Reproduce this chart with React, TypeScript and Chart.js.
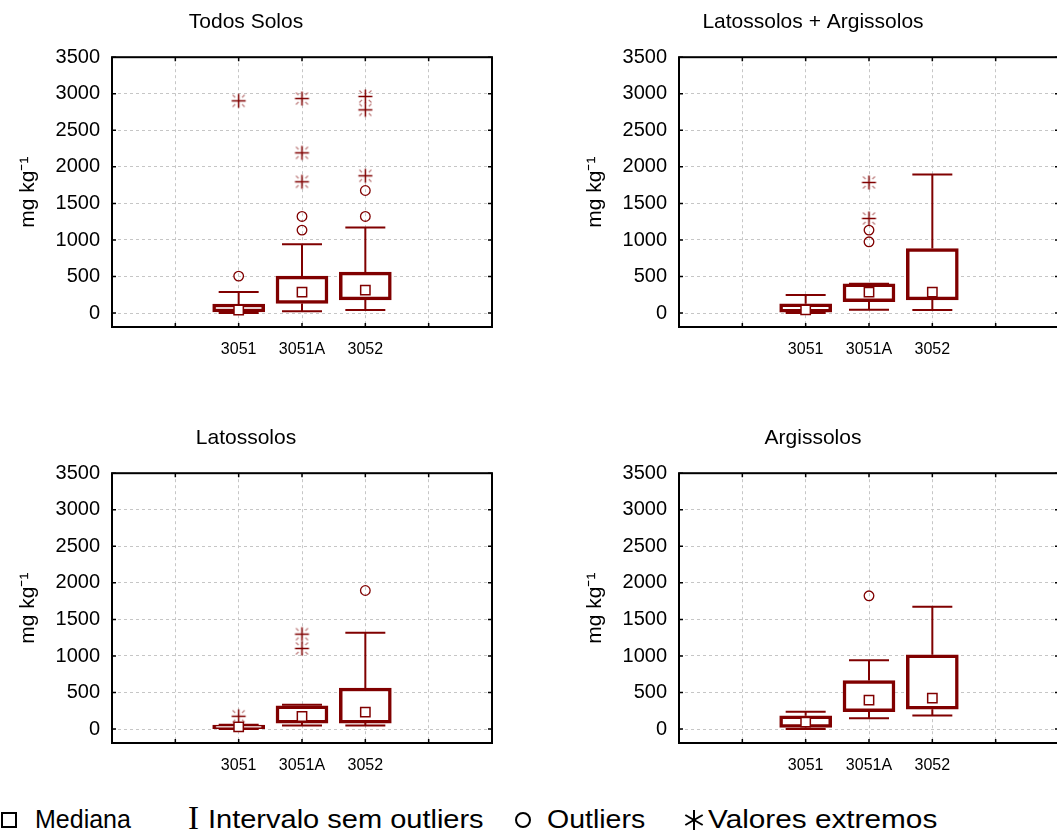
import { useEffect, useRef } from "react";
import { Chart, registerables } from "chart.js";

Chart.register(...registerables);

// ---------- data ----------
const categories = ["3051", "3051A", "3052"];
const categoryPositions = [2, 3, 4];
const xGridTicks = [1, 2, 3, 4, 5];
const yTicks = [0, 500, 1000, 1500, 2000, 2500, 3000, 3500];
const yMin = -190;
const yMax = 3500;
const xMin = 0;
const xMax = 6;

const panelTitles = ["Todos Solos", "Latossolos + Argissolos", "Latossolos", "Argissolos"];
const yAxisTitle = "mg kg\u207B\u00B9";

// Todos Solos
const todosWhiskerLow = [0, 27, 41];
const todosQ1 = [15, 132, 182];
const todosMedian = [42, 287, 315];
const todosQ3 = [125, 506, 561];
const todosWhiskerHigh = [290, 943, 1171];
const todosOutliers = [[506], [1135, 1322], [1322, 1677]];
const todosExtremes = [[2903], [1796, 2192, 2935], [1878, 2780, 2963]];

// Latossolos + Argissolos
const latArgWhiskerLow = [0, 46, 41];
const latArgQ1 = [14, 155, 182];
const latArgMedian = [45, 287, 287];
const latArgQ3 = [128, 401, 884];
const latArgWhiskerHigh = [246, 401, 1896];
const latArgOutliers = [[], [975, 1135], []];
const latArgExtremes = [[], [1294, 1787], []];

// Latossolos
const latWhiskerLow = [0, 50, 50];
const latQ1 = [5, 82, 82];
const latMedian = [30, 172, 232];
const latQ3 = [55, 320, 562];
const latWhiskerHigh = [60, 333, 1317];
const latOutliers = [[], [], [1896]];
const latExtremes = [[175], [1103, 1299], []];

// Argissolos
const argWhiskerLow = [0, 150, 187];
const argQ1 = [23, 237, 273];
const argMedian = [96, 397, 424];
const argQ3 = [182, 665, 1016];
const argWhiskerHigh = [237, 943, 1673];
const argOutliers = [[], [1823], []];
const argExtremes = [[], [], []];

const panels = [
  { title: panelTitles[0], low: todosWhiskerLow, q1: todosQ1, med: todosMedian, q3: todosQ3, high: todosWhiskerHigh, out: todosOutliers, ext: todosExtremes, left: 0, top: 0 },
  { title: panelTitles[1], low: latArgWhiskerLow, q1: latArgQ1, med: latArgMedian, q3: latArgQ3, high: latArgWhiskerHigh, out: latArgOutliers, ext: latArgExtremes, left: 567, top: 0 },
  { title: panelTitles[2], low: latWhiskerLow, q1: latQ1, med: latMedian, q3: latQ3, high: latWhiskerHigh, out: latOutliers, ext: latExtremes, left: 0, top: 416 },
  { title: panelTitles[3], low: argWhiskerLow, q1: argQ1, med: argMedian, q3: argQ3, high: argWhiskerHigh, out: argOutliers, ext: argExtremes, left: 567, top: 416 },
];

// ---------- styles ----------
const MAROON = "#800000";
const FONT = "'Liberation Sans', Arial, sans-serif";
const NARROW = "'Liberation Sans Narrow', 'Arial Narrow', 'Liberation Sans', Arial, sans-serif";
const CANVAS_W = 506;
const CANVAS_H = 380;

function makeAsterisk(): HTMLCanvasElement {
  const c = document.createElement("canvas");
  c.width = 17;
  c.height = 17;
  const g = c.getContext("2d")!;
  const m = 8.5;
  g.strokeStyle = MAROON;
  g.lineWidth = 1.5;
  g.beginPath();
  g.moveTo(1.5, m);
  g.lineTo(15.5, m);
  g.moveTo(m, 1.5);
  g.lineTo(m, 15.5);
  g.stroke();
  g.strokeStyle = "rgba(128,0,0,0.55)";
  g.lineWidth = 1.2;
  g.beginPath();
  const a = 3.4, b = 6;
  for (const [sx, sy] of [[1, 1], [1, -1], [-1, 1], [-1, -1]]) {
    g.moveTo(m + sx * a, m + sy * a);
    g.lineTo(m + sx * b, m + sy * b);
  }
  g.stroke();
  return c;
}

function makeWhiskerPlugin(p: any) {
  return {
    id: "boxWhiskers",
    beforeDatasetsDraw(chart: any) {
      const { ctx, chartArea, scales } = chart;
      const xs = scales.x;
      const ys = scales.y;
      ctx.save();
      ctx.beginPath();
      ctx.rect(chartArea.left, chartArea.top, chartArea.right - chartArea.left, chartArea.bottom - chartArea.top);
      ctx.clip();
      ctx.strokeStyle = MAROON;
      ctx.lineWidth = 2;
      const half = 20;
      categoryPositions.forEach((pos, i) => {
        const px = xs.getPixelForValue(pos);
        const yHigh = ys.getPixelForValue(p.high[i]);
        const yLow = ys.getPixelForValue(p.low[i]);
        ctx.beginPath();
        ctx.moveTo(px, yHigh);
        ctx.lineTo(px, ys.getPixelForValue(p.q3[i]));
        ctx.moveTo(px, ys.getPixelForValue(p.q1[i]));
        ctx.lineTo(px, yLow);
        ctx.moveTo(px - half, yHigh);
        ctx.lineTo(px + half, yHigh);
        ctx.moveTo(px - half, yLow);
        ctx.lineTo(px + half, yLow);
        ctx.stroke();
      });
      ctx.restore();
    },
  };
}

const framePlugin = {
  id: "frame",
  afterDatasetsDraw(chart: any) {
    const { ctx, chartArea, scales } = chart;
    const { left, right, top, bottom } = chartArea;
    ctx.save();
    ctx.strokeStyle = "#000";
    ctx.lineWidth = 2;
    ctx.strokeRect(left, top, right - left, bottom - top);
    ctx.lineWidth = 1.5;
    ctx.beginPath();
    xGridTicks.forEach((v) => {
      const px = scales.x.getPixelForValue(v);
      ctx.moveTo(px, top);
      ctx.lineTo(px, top + 4);
      ctx.moveTo(px, bottom);
      ctx.lineTo(px, bottom - 4);
    });
    yTicks.forEach((v) => {
      const py = scales.y.getPixelForValue(v);
      ctx.moveTo(left, py);
      ctx.lineTo(left + 4, py);
      ctx.moveTo(right, py);
      ctx.lineTo(right - 4, py);
    });
    ctx.stroke();
    ctx.restore();
  },
};

function BoxPanel({ p }: { p: any }) {
  const ref = useRef<HTMLCanvasElement | null>(null);
  useEffect(() => {
    if (!ref.current) return;
    const star = makeAsterisk();
    const boxes = categoryPositions.map((x, i) => ({ x, y: [p.q1[i], p.q3[i]] }));
    const medians = categoryPositions.map((x, i) => ({ x, y: p.med[i] }));
    const outliers = categoryPositions.flatMap((x, i) => p.out[i].map((y: number) => ({ x, y })));
    const extremes = categoryPositions.flatMap((x, i) => p.ext[i].map((y: number) => ({ x, y })));
    const chart = new Chart(ref.current, {
      type: "bar",
      data: {
        datasets: [
          {
            type: "scatter",
            data: medians,
            pointStyle: "rect",
            pointRadius: 6.6,
            pointBorderWidth: 1.5,
            pointBorderColor: MAROON,
            pointBackgroundColor: "#fff",
            order: 0,
          } as any,
          {
            type: "scatter",
            data: outliers,
            pointStyle: "circle",
            pointRadius: 4.8,
            pointBorderWidth: 1.3,
            pointBorderColor: MAROON,
            pointBackgroundColor: "rgba(255,255,255,0)",
            order: 1,
          } as any,
          {
            type: "scatter",
            data: extremes,
            pointStyle: star,
            pointRadius: 8,
            order: 2,
          } as any,
          {
            type: "bar",
            data: boxes,
            backgroundColor: "#fff",
            borderColor: MAROON,
            borderWidth: 3.5,
            borderSkipped: false,
            barThickness: 52,
            order: 3,
          } as any,
        ],
      },
      options: {
        responsive: false,
        animation: false,
        devicePixelRatio: 1,
        layout: { padding: { left: 0, right: 14, top: 0, bottom: 0 } },
        plugins: {
          legend: { display: false },
          tooltip: { enabled: false },
          title: {
            display: true,
            text: p.title,
            color: "#000",
            font: { family: FONT, size: 21, weight: "normal" },
            padding: { top: 10, bottom: 22 },
          },
        },
        scales: {
          x: {
            type: "linear",
            min: xMin,
            max: xMax,
            offset: false,
            afterBuildTicks: (scale: any) => {
              scale.ticks = xGridTicks.map((v) => ({ value: v }));
            },
            afterFit: (scale: any) => {
              scale.height = CANVAS_H - 327;
            },
            ticks: {
              autoSkip: false,
              maxRotation: 0,
              padding: 13,
              color: "#000",
              font: { family: NARROW, size: 16 },
              callback: (v: any) => {
                const idx = categoryPositions.indexOf(Number(v));
                return idx >= 0 ? categories[idx] : "";
              },
            },
            grid: { color: "#c6c6c6", lineWidth: 1, drawTicks: false, offset: false },
            border: { display: false, dash: [3, 3] },
          },
          y: {
            type: "linear",
            min: yMin,
            max: yMax,
            afterBuildTicks: (scale: any) => {
              scale.ticks = yTicks.map((v) => ({ value: v }));
            },
            afterFit: (scale: any) => {
              scale.width = 112;
            },
            ticks: {
              autoSkip: false,
              padding: 12,
              color: "#000",
              font: { family: FONT, size: 20 },
              callback: (v: any) => String(v),
            },
            title: {
              display: true,
              text: yAxisTitle,
              color: "#000",
              font: { family: FONT, size: 21 },
              padding: { top: 16, bottom: 0 },
            },
            grid: { color: "#c6c6c6", lineWidth: 1, drawTicks: false },
            border: { display: false, dash: [3, 3] },
          },
        },
      } as any,
      plugins: [makeWhiskerPlugin(p), framePlugin],
    });
    return () => chart.destroy();
  }, [p]);
  return (
    <canvas
      ref={ref}
      width={CANVAS_W}
      height={CANVAS_H}
      style={{ position: "absolute", left: p.left, top: p.top, width: CANVAS_W, height: CANVAS_H }}
    />
  );
}

const legendText: React.CSSProperties = {
  position: "absolute",
  top: 807,
  fontFamily: FONT,
  fontSize: 25,
  lineHeight: "25px",
  color: "#000",
  whiteSpace: "nowrap",
  transformOrigin: "left center",
};

export default function App() {
  return (
    <div
      style={{
        position: "absolute",
        left: 0,
        top: 0,
        width: 1057,
        height: 834,
        overflow: "hidden",
        background: "#fff",
      }}
    >
      {panels.map((p, i) => (
        <BoxPanel key={i} p={p} />
      ))}
      <span
        style={{
          position: "absolute",
          left: 1,
          top: 812,
          width: 16,
          height: 16,
          boxSizing: "border-box",
          border: "2px solid #000",
        }}
      />
      <span style={{ ...legendText, left: 35 }}>Mediana</span>
      <span
        style={{
          position: "absolute",
          left: 188,
          top: 802,
          fontFamily: "'Liberation Serif', 'Times New Roman', serif",
          fontSize: 33,
          lineHeight: "33px",
          color: "#000",
        }}
      >
        I
      </span>
      <span style={{ ...legendText, left: 208, transform: "scaleX(1.16)" }}>Intervalo sem outliers</span>
      <span
        style={{
          position: "absolute",
          left: 515,
          top: 812,
          width: 16,
          height: 16,
          boxSizing: "border-box",
          border: "2px solid #000",
          borderRadius: "50%",
        }}
      />
      <span style={{ ...legendText, left: 547, transform: "scaleX(1.14)" }}>Outliers</span>
      <svg
        style={{ position: "absolute", left: 683, top: 809 }}
        width={22}
        height={22}
        viewBox="0 0 22 22"
      >
        <g stroke="#000" strokeWidth={2}>
          <line x1={11} y1={1} x2={11} y2={21} />
          <line x1={2.3} y1={6} x2={19.7} y2={16} />
          <line x1={2.3} y1={16} x2={19.7} y2={6} />
        </g>
      </svg>
      <span style={{ ...legendText, left: 708, transform: "scaleX(1.19)" }}>Valores extremos</span>
    </div>
  );
}
